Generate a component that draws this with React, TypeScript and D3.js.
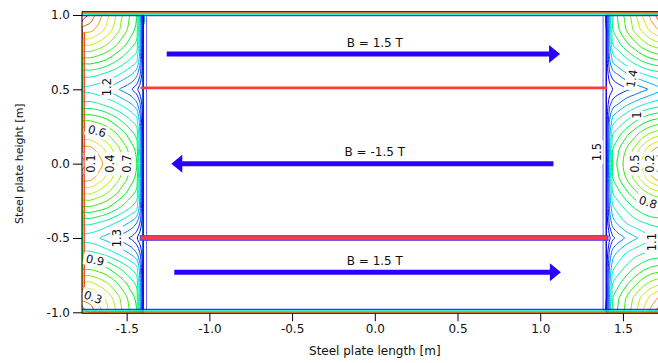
import React, { useEffect, useRef } from 'react';
import * as d3 from 'd3';

// sampled field magnitude [T] in the air gaps either side of the plate
const rows = [1.0, 0.9, 0.8, 0.7, 0.6, 0.5, 0.4, 0.3, 0.2, 0.1, 0.0, -0.1, -0.2, -0.3, -0.4, -0.5, -0.6, -0.7, -0.8, -0.9, -1.0];
const leftCols = [-1.77, -1.72, -1.67, -1.62, -1.57, -1.52, -1.47, -1.44, -1.42, -1.4];
const rightCols = [1.4, 1.42, 1.44, 1.47, 1.52, 1.57, 1.62, 1.67, 1.72, 1.77];

const leftField = [
	[0.0, 0.12, 0.24, 0.36, 0.48, 0.6, 0.72, 0.79, 1.1, 1.55],
	[0.24, 0.27, 0.34, 0.43, 0.54, 0.65, 0.76, 0.83, 1.15, 1.55],
	[0.48, 0.49, 0.54, 0.6, 0.68, 0.77, 0.87, 0.93, 1.2, 1.56],
	[0.72, 0.73, 0.76, 0.8, 0.87, 0.94, 1.02, 1.07, 1.25, 1.57],
	[0.96, 0.97, 0.99, 1.03, 1.07, 1.13, 1.2, 1.27, 1.38, 1.59],
	[1.12, 1.14, 1.17, 1.21, 1.27, 1.33, 1.39, 1.46, 1.56, 1.66],
	[0.96, 0.97, 0.99, 1.03, 1.07, 1.13, 1.2, 1.27, 1.38, 1.59],
	[0.72, 0.73, 0.76, 0.8, 0.87, 0.94, 1.02, 1.07, 1.25, 1.57],
	[0.48, 0.49, 0.54, 0.6, 0.68, 0.77, 0.87, 0.93, 1.2, 1.56],
	[0.24, 0.27, 0.34, 0.43, 0.54, 0.65, 0.76, 0.83, 1.15, 1.55],
	[0.0, 0.12, 0.24, 0.36, 0.48, 0.6, 0.72, 0.79, 1.1, 1.55],
	[0.24, 0.27, 0.34, 0.43, 0.54, 0.65, 0.76, 0.83, 1.15, 1.55],
	[0.48, 0.49, 0.54, 0.6, 0.68, 0.77, 0.87, 0.93, 1.2, 1.56],
	[0.72, 0.73, 0.76, 0.8, 0.87, 0.94, 1.02, 1.07, 1.25, 1.57],
	[0.97, 0.98, 1.01, 1.05, 1.1, 1.16, 1.23, 1.3, 1.4, 1.59],
	[1.14, 1.16, 1.19, 1.24, 1.3, 1.36, 1.42, 1.48, 1.57, 1.66],
	[0.97, 0.98, 1.01, 1.05, 1.1, 1.16, 1.23, 1.3, 1.4, 1.59],
	[0.72, 0.73, 0.76, 0.8, 0.87, 0.94, 1.02, 1.07, 1.25, 1.57],
	[0.48, 0.49, 0.54, 0.6, 0.68, 0.77, 0.87, 0.93, 1.2, 1.56],
	[0.24, 0.27, 0.34, 0.43, 0.54, 0.65, 0.76, 0.83, 1.15, 1.55],
	[0.0, 0.12, 0.24, 0.36, 0.48, 0.6, 0.72, 0.79, 1.1, 1.55],
];

const rightField = [
	[1.55, 1.15, 0.86, 0.78, 0.65, 0.52, 0.39, 0.26, 0.13, 0.0],
	[1.55, 1.18, 0.9, 0.82, 0.7, 0.58, 0.47, 0.37, 0.29, 0.26],
	[1.56, 1.22, 1.0, 0.94, 0.83, 0.74, 0.65, 0.58, 0.54, 0.52],
	[1.57, 1.3, 1.16, 1.1, 1.02, 0.94, 0.87, 0.82, 0.79, 0.78],
	[1.59, 1.42, 1.35, 1.3, 1.22, 1.16, 1.11, 1.07, 1.05, 1.04],
	[1.66, 1.56, 1.49, 1.46, 1.42, 1.38, 1.33, 1.28, 1.23, 1.2],
	[1.59, 1.42, 1.35, 1.3, 1.22, 1.16, 1.11, 1.07, 1.05, 1.04],
	[1.57, 1.3, 1.16, 1.1, 1.02, 0.94, 0.87, 0.82, 0.79, 0.78],
	[1.56, 1.22, 1.0, 0.94, 0.83, 0.74, 0.65, 0.58, 0.54, 0.52],
	[1.55, 1.18, 0.9, 0.82, 0.7, 0.58, 0.45, 0.33, 0.26, 0.24],
	[1.55, 1.15, 0.86, 0.78, 0.65, 0.52, 0.36, 0.2, 0.1, 0.0],
	[1.55, 1.18, 0.9, 0.82, 0.7, 0.58, 0.45, 0.33, 0.26, 0.24],
	[1.56, 1.22, 1.0, 0.94, 0.83, 0.74, 0.65, 0.58, 0.54, 0.52],
	[1.57, 1.28, 1.12, 1.06, 0.98, 0.9, 0.84, 0.79, 0.77, 0.76],
	[1.59, 1.36, 1.25, 1.18, 1.1, 1.05, 1.01, 0.98, 0.97, 0.96],
	[1.66, 1.52, 1.42, 1.36, 1.28, 1.22, 1.17, 1.12, 1.08, 1.06],
	[1.59, 1.36, 1.25, 1.18, 1.1, 1.05, 1.01, 0.98, 0.97, 0.96],
	[1.57, 1.28, 1.12, 1.06, 0.98, 0.9, 0.84, 0.79, 0.77, 0.76],
	[1.56, 1.22, 1.0, 0.94, 0.83, 0.74, 0.65, 0.58, 0.54, 0.52],
	[1.55, 1.18, 0.9, 0.82, 0.7, 0.58, 0.47, 0.37, 0.29, 0.26],
	[1.55, 1.15, 0.86, 0.78, 0.65, 0.52, 0.39, 0.26, 0.13, 0.0],
];

const levels = [0.1, 0.2, 0.3, 0.4, 0.5, 0.6, 0.7, 0.8, 0.9, 1.0, 1.1, 1.2, 1.3, 1.4, 1.5];

// contour labels [text, x, y, angle]
const contourLabels: [string, number, number, number][] = [
	['1.2', -1.619, 0.515, -90],
	['0.6', -1.679, 0.219, 15],
	['0.1', -1.714, 0.0, -90],
	['0.4', -1.6, 0.0, -90],
	['0.7', -1.497, 0.0, -90],
	['1.3', -1.56, -0.501, -90],
	['0.9', -1.691, -0.649, 12],
	['0.3', -1.703, -0.898, 20],
	['1.5', 1.342, 0.077, -90],
	['1.4', 1.554, 0.573, -80],
	['1', 1.584, 0.326, -90],
	['0.5', 1.574, 0.0, -90],
	['0.2', 1.664, 0.0, -90],
	['0.8', 1.652, -0.259, 18],
	['1.1', 1.672, -0.528, -90],
];

const plateEdge = [-1.4, 1.4];
const barY = [0.5, -0.5];
const arrowFrom = [-1.258, 1.08, -1.212];
const arrowTo = [1.12, -1.23, 1.125];
const arrowY = [0.737, 0.0, -0.73];
const arrowText = ['B = 1.5 T', 'B = -1.5 T', 'B = 1.5 T'];

const xTicks = [-1.5, -1.0, -0.5, 0.0, 0.5, 1.0, 1.5];
const yTicks = [-1.0, -0.5, 0.0, 0.5, 1.0];

const font = '"DejaVu Sans", Verdana, sans-serif';

const App: React.FC = () => {
	const ref = useRef<SVGSVGElement>(null);

	useEffect(() => {
		if (!ref.current) return;
		const svg = d3.select(ref.current);
		svg.selectAll('*').remove();

		const left = 82;
		const frameTop = 11.7;
		const frameBottom = 313.3;
		const x = d3.scaleLinear().domain([-1.77, 1.77]).range([left, 667.6]);
		const y = d3.scaleLinear().domain([-1, 1]).range([312.3, 15]);

		const hue = d3.scaleLinear().domain([0.1, 1.5]).range([5, 245]);
		const color = (v: number) => d3.hsl(hue(v), 1, 0.47).formatHex();
		const plateBlue = '#4a3cff';

		svg
			.append('clipPath')
			.attr('id', 'plotClip')
			.append('rect')
			.attr('x', left)
			.attr('y', frameTop)
			.attr('width', 600)
			.attr('height', frameBottom - frameTop);

		const plot = svg.append('g').attr('clip-path', 'url(#plotClip)');

		// --- contours ---
		const line = d3.line().curve(d3.curveCatmullRomClosed.alpha(0.5));
		const drawField = (cols: number[], field: number[][]) => {
			const nx = cols.length;
			const ny = rows.length;
			const colX = d3.scaleLinear().domain(d3.range(nx)).range(cols).clamp(true);
			const rowY = d3.scaleLinear().domain(d3.range(ny)).range(rows).clamp(true);
			const contours = d3.contours().size([nx, ny]).thresholds(levels)(field.flat());
			const ringPath = (ring: number[][]) => {
				const pts: [number, number][] = [];
				ring.slice(0, -1).forEach(([gx, gy]) => {
					const p: [number, number] = [x(colX(gx - 0.5)), y(rowY(gy - 0.5))];
					const last = pts[pts.length - 1];
					if (!last || Math.hypot(last[0] - p[0], last[1] - p[1]) > 0.05) pts.push(p);
				});
				return pts.length > 2 ? line(pts) : '';
			};
			plot
				.append('g')
				.selectAll('path')
				.data(contours)
				.join('path')
				.attr('d', (c) =>
					c.coordinates.map((poly) => poly.map((ring) => ringPath(ring as number[][])).join('')).join(''),
				)
				.attr('fill', 'none')
				.attr('stroke', (c) => color(c.value))
				.attr('stroke-width', 1);
		};
		drawField(leftCols, leftField);
		drawField(rightCols, rightField);

		// 1.5 T level just inside the plate edges
		plateEdge.forEach((px) => {
			const xx = x(px - Math.sign(px) * 0.02);
			plot
				.append('line')
				.attr('x1', xx)
				.attr('x2', xx)
				.attr('y1', y(0.99))
				.attr('y2', y(-0.99))
				.attr('stroke', plateBlue)
				.attr('stroke-width', 0.8);
		});

		// compressed levels along top and bottom boundary
		const edgeLevels = [0.25, 0.8, 1.1, 1.5];
		edgeLevels.forEach((v, i) => {
			plot
				.append('line')
				.attr('x1', left)
				.attr('x2', 660)
				.attr('y1', frameTop + 1 + i)
				.attr('y2', frameTop + 1 + i)
				.attr('stroke', color(v))
				.attr('stroke-width', 1);
			plot
				.append('line')
				.attr('x1', left)
				.attr('x2', 660)
				.attr('y1', frameBottom - 1 - i)
				.attr('y2', frameBottom - 1 - i)
				.attr('stroke', color(v))
				.attr('stroke-width', 1);
		});
		// outer edge on the left
		plot
			.append('line')
			.attr('x1', left + 2.2)
			.attr('x2', left + 2.2)
			.attr('y1', y(0.88))
			.attr('y2', y(-0.9))
			.attr('stroke', color(0.12))
			.attr('stroke-width', 1.2);

		// --- current bars ---
		plot
			.append('line')
			.attr('x1', x(-1.416))
			.attr('x2', x(1.405))
			.attr('y1', y(barY[0]) - 1.4)
			.attr('y2', y(barY[0]) - 1.4)
			.attr('stroke', '#ff3b3b')
			.attr('stroke-width', 2.7);
		plot
			.append('rect')
			.attr('x', x(-1.418))
			.attr('width', x(1.41) - x(-1.418))
			.attr('y', y(barY[1]) - 2.3)
			.attr('height', 4.6)
			.attr('fill', '#ff3b3b')
			.attr('stroke', plateBlue)
			.attr('stroke-width', 1);

		// --- arrows ---
		const arrowColor = '#2a00ff';
		arrowY.forEach((ay, i) => {
			const x0 = x(arrowFrom[i]);
			const x1 = x(arrowTo[i]);
			const yy = y(ay);
			const dir = Math.sign(x1 - x0);
			plot
				.append('line')
				.attr('x1', x0)
				.attr('x2', x1 - dir * 9)
				.attr('y1', yy)
				.attr('y2', yy)
				.attr('stroke', arrowColor)
				.attr('stroke-width', 5);
			plot
				.append('path')
				.attr('d', `M${x1},${yy}L${x1 - dir * 11},${yy - 9}L${x1 - dir * 11},${yy + 9}Z`)
				.attr('fill', arrowColor);
			plot
				.append('text')
				.attr('x', x(0))
				.attr('y', yy - 7.5)
				.attr('text-anchor', 'middle')
				.attr('font-family', font)
				.attr('font-size', 12)
				.attr('fill', '#111')
				.text(arrowText[i]);
		});

		// --- contour labels ---
		const lab = plot
			.append('g')
			.selectAll('g')
			.data(contourLabels)
			.join('g')
			.attr('transform', (d) => `translate(${x(d[1])},${y(d[2])}) rotate(${d[3]})`);
		lab
			.append('rect')
			.attr('x', (d) => -d[0].length * 3.6 - 1)
			.attr('y', -6.5)
			.attr('width', (d) => d[0].length * 7.2 + 2)
			.attr('height', 13)
			.attr('fill', '#fff');
		lab
			.append('text')
			.attr('text-anchor', 'middle')
			.attr('dy', '0.36em')
			.attr('font-family', font)
			.attr('font-size', 11.5)
			.attr('fill', '#111')
			.text((d) => d[0]);

		// --- axes ---
		const fmt = (d: d3.NumberValue) => (+d).toFixed(1);
		const gx = svg
			.append('g')
			.attr('transform', `translate(0,${frameBottom})`)
			.call(d3.axisBottom(x).tickValues(xTicks).tickFormat(fmt).tickSize(8).tickSizeOuter(0).tickPadding(3));
		gx.select('.domain').remove();
		gx.selectAll('text').attr('font-family', font).attr('font-size', 12).attr('fill', '#111');

		const gy = svg
			.append('g')
			.attr('transform', `translate(${left},0)`)
			.call(d3.axisLeft(y).tickValues(yTicks).tickFormat(fmt).tickSize(9).tickSizeOuter(0).tickPadding(3));
		gy.select('.domain').remove();
		gy.selectAll('text').attr('font-family', font).attr('font-size', 12).attr('fill', '#111');

		svg
			.append('path')
			.attr('d', `M660,${frameTop}H${left}V${frameBottom}H660`)
			.attr('fill', 'none')
			.attr('stroke', '#000')
			.attr('stroke-width', 1);

		svg
			.append('text')
			.attr('x', x(0))
			.attr('y', 355)
			.attr('text-anchor', 'middle')
			.attr('font-family', font)
			.attr('font-size', 12)
			.attr('fill', '#111')
			.text('Steel plate length [m]');

		svg
			.append('text')
			.attr('transform', `translate(23,${y(0)}) rotate(-90)`)
			.attr('text-anchor', 'middle')
			.attr('font-family', font)
			.attr('font-size', 11)
			.attr('fill', '#111')
			.text('Steel plate height [m]');
	}, []);

	return (
		<svg
			ref={ref}
			width={658}
			height={363}
			style={{ position: 'absolute', left: 0, top: 0, background: '#fff' }}
		/>
	);
};

export default App;
